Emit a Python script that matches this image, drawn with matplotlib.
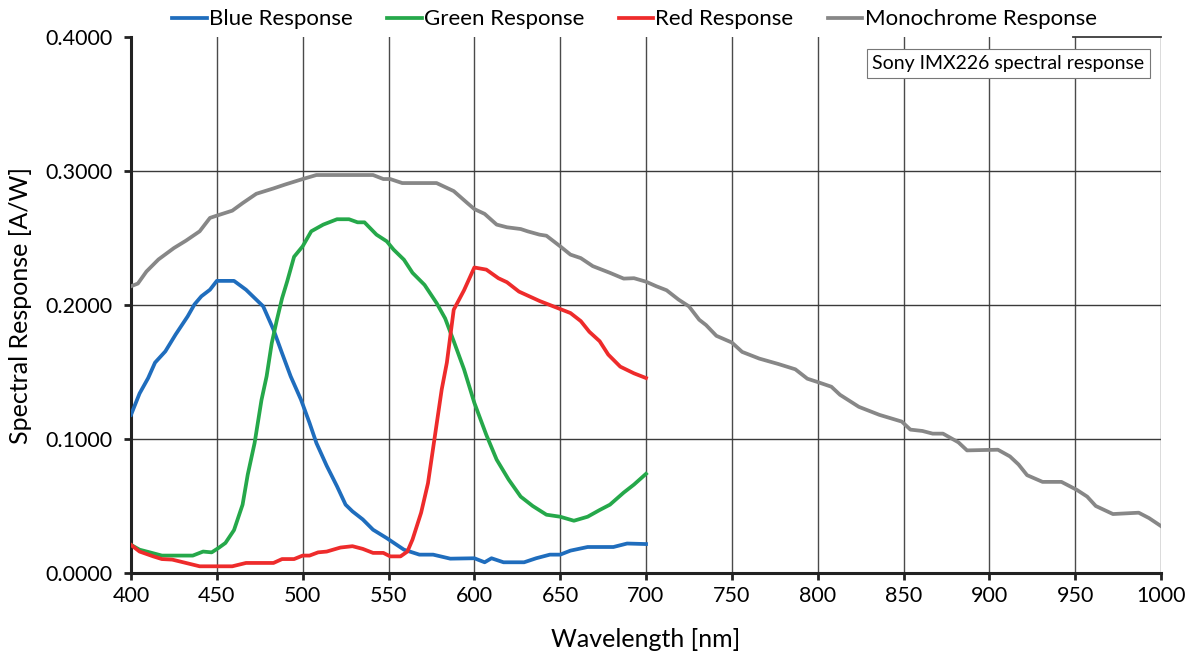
import matplotlib
matplotlib.use("Agg")
import matplotlib.pyplot as plt
from matplotlib.ticker import FuncFormatter

# ---- data ----
mono_wl = [400, 404, 409, 416, 425, 432, 440, 446, 450, 459, 465, 473, 483, 490, 500, 508,
           541, 547, 551, 558, 578, 588, 596, 600, 606, 613, 619, 627, 631, 638, 642, 650,
           656, 662, 669, 679, 687, 693, 700, 706, 712, 719, 725, 731, 735, 741, 750, 756,
           766, 777, 787, 794, 800, 808, 813, 824, 836, 849, 854, 861, 867, 873, 882, 887,
           905, 912, 917, 922, 931, 942, 951, 957, 962, 972, 987, 993, 1000]
mono_val = [0.214, 0.216, 0.225, 0.234, 0.2425, 0.248, 0.255, 0.265, 0.2667, 0.2704, 0.276, 0.283,
            0.287, 0.290, 0.294, 0.297, 0.297, 0.294, 0.294, 0.291, 0.291, 0.285, 0.276, 0.2716,
            0.268, 0.260, 0.258, 0.2567, 0.255, 0.2525, 0.2517, 0.2438, 0.2376, 0.235, 0.229,
            0.224, 0.2197, 0.220, 0.2174, 0.214, 0.211, 0.204, 0.199, 0.189, 0.185, 0.177, 0.172,
            0.165, 0.160, 0.156, 0.152, 0.145, 0.1425, 0.139, 0.133, 0.124, 0.118, 0.113, 0.107,
            0.106, 0.104, 0.104, 0.0975, 0.0915, 0.092, 0.087, 0.081, 0.073, 0.068, 0.068, 0.062,
            0.057, 0.050, 0.044, 0.045, 0.041, 0.035]

blue_wl = [400, 405, 410, 414, 420, 426, 433, 437, 441, 446, 450, 460, 467, 472, 477, 483, 488,
           493, 499, 504, 508, 514, 520, 525, 529, 535, 541, 549, 559, 568, 576, 586, 600, 606,
           610, 617, 629, 636, 644, 650, 656, 666, 681, 689, 700]
blue_val = [0.118, 0.134, 0.1455, 0.157, 0.1654, 0.178, 0.1915, 0.2005, 0.2065, 0.2114, 0.218,
            0.218, 0.2114, 0.2052, 0.199, 0.1816, 0.164, 0.1468, 0.1294, 0.112, 0.097, 0.080,
            0.0647, 0.051, 0.046, 0.040, 0.0323, 0.026, 0.0174, 0.0137, 0.0137, 0.0107, 0.011,
            0.008, 0.011, 0.008, 0.008, 0.011, 0.0137, 0.0137, 0.0167, 0.0194, 0.0194, 0.022, 0.0216]

green_wl = [400, 405, 411, 418, 436, 442, 447, 451, 455, 460, 465, 468, 472, 476, 479, 482, 485,
            488, 491, 495, 500, 505, 512, 520, 527, 532, 536, 543, 549, 553, 559, 564, 571, 578,
            583, 588, 594, 600, 607, 613, 620, 627, 634, 642, 650, 658, 666, 673, 679, 687, 693, 700]
green_val = [0.021, 0.0174, 0.0154, 0.013, 0.013, 0.016, 0.0154, 0.0187, 0.0224, 0.032, 0.051,
             0.0734, 0.097, 0.129, 0.1468, 0.1716, 0.189, 0.205, 0.2177, 0.236, 0.2438, 0.255,
             0.260, 0.264, 0.264, 0.2617, 0.2617, 0.2525, 0.2475, 0.2413, 0.2338, 0.224, 0.215,
             0.2015, 0.190, 0.173, 0.152, 0.127, 0.103, 0.0846, 0.0697, 0.057, 0.050, 0.0435,
             0.042, 0.039, 0.042, 0.047, 0.051, 0.060, 0.066, 0.074]

red_wl = [400, 405, 413, 418, 424, 432, 440, 459, 467, 483, 488, 495, 500, 504, 509, 514, 522,
          529, 535, 541, 547, 551, 557, 561, 564, 569, 573, 577, 581, 584, 588, 594, 600, 607,
          614, 619, 626, 638, 650, 656, 662, 667, 673, 678, 685, 693, 700]
red_val = [0.021, 0.016, 0.0124, 0.0104, 0.010, 0.0075, 0.005, 0.005, 0.0075, 0.0075, 0.0104,
           0.0104, 0.013, 0.013, 0.0154, 0.016, 0.019, 0.020, 0.018, 0.015, 0.015, 0.0124, 0.0124,
           0.016, 0.025, 0.045, 0.067, 0.102, 0.137, 0.157, 0.1965, 0.211, 0.228, 0.2264, 0.220,
           0.217, 0.210, 0.203, 0.197, 0.194, 0.188, 0.180, 0.173, 0.163, 0.154, 0.149, 0.1455]

x_ticks = list(range(400, 1001, 50))
y_ticks = [0.0, 0.1, 0.2, 0.3, 0.4]
note = "Sony IMX226 spectral response"

# ---- plotting ----
plt.rcParams['font.family'] = ['Lato', 'DejaVu Sans']
fig = plt.figure(figsize=(11.95, 6.57), dpi=100)
ax = fig.add_axes([131 / 1195, 1 - 573 / 657, 1030 / 1195, 536 / 657])

lw = 2.7
ax.plot(blue_wl, blue_val, color='#1f6dbd', lw=lw, label='Blue Response', zorder=3)
ax.plot(green_wl, green_val, color='#25a84a', lw=lw, label='Green Response', zorder=3)
ax.plot(red_wl, red_val, color='#ee2b2b', lw=lw, label='Red Response', zorder=3)
ax.plot(mono_wl, mono_val, color='#878787', lw=lw, label='Monochrome Response', zorder=3)

ax.set_xlim(400, 1000)
ax.set_ylim(0, 0.4)
ax.set_xticks(x_ticks)
ax.set_yticks(y_ticks)
ax.yaxis.set_major_formatter(FuncFormatter(lambda v, p: f"{v:.4f}"))

# grid
for xv in x_ticks[1:]:
    ax.axvline(xv, color='#4a4a4a', lw=1.0, zorder=1)
for yv in y_ticks[1:-1]:
    ax.axhline(yv, color='#3a3a3a', lw=1.0, zorder=1)
ax.axhline(y_ticks[-1], xmin=0.915, xmax=1.0, color='#3a3a3a', lw=1.3, zorder=1, clip_on=False)

for s in ['top', 'right']:
    ax.spines[s].set_visible(False)
for s in ['left', 'bottom']:
    ax.spines[s].set_linewidth(2.2)
    ax.spines[s].set_color('#222222')

ax.tick_params(axis='both', direction='out', length=5, width=2, color='#222222',
               labelsize=15.5, pad=4)
ax.tick_params(axis='y', pad=8)

ax.set_xlabel('Wavelength [nm]', fontsize=18, labelpad=16)
ax.set_ylabel('Spectral Response [A/W]', fontsize=18, labelpad=10)

ax.text(0.984, 0.966, note, transform=ax.transAxes, ha='right', va='top', fontsize=14,
        bbox=dict(boxstyle='square,pad=0.3', facecolor='white', edgecolor='#777777', lw=0.8),
        zorder=5)

fig.legend(loc='upper center', bbox_to_anchor=(0.531, 1.016), ncol=4, frameon=False,
           fontsize=16, handlelength=1.55, handletextpad=0.1, columnspacing=1.55)

fig.savefig('out.png', dpi=100)
